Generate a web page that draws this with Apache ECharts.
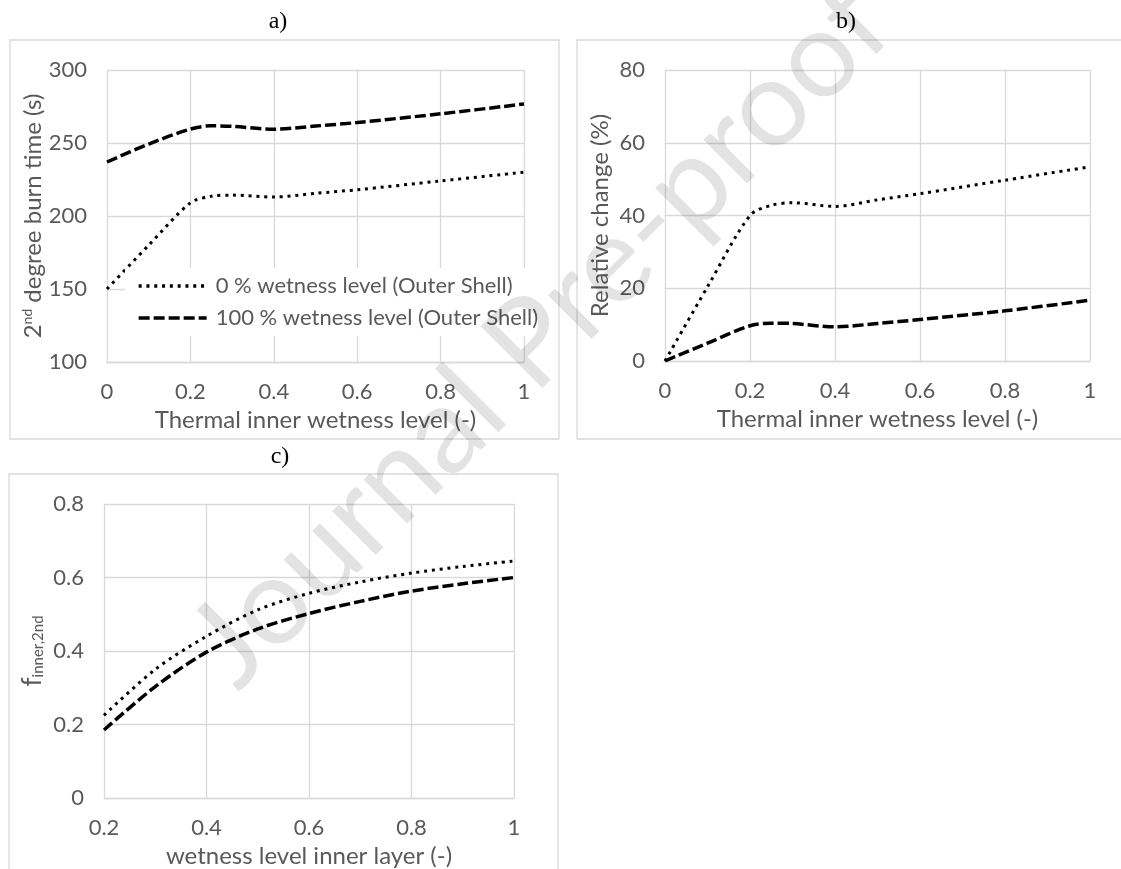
<!DOCTYPE html>
<html><head><meta charset="utf-8">
<script src="https://cdn.jsdelivr.net/npm/echarts@6/dist/echarts.min.js"></script>
<style>html,body{margin:0;padding:0;background:#fff}#chart{width:1121px;height:869px}</style>
</head><body><div id="chart"></div>
<script>
// ---------- data ----------
const thermalLevels = [0, 0.1, 0.2, 0.25, 0.3, 0.4, 0.5, 0.6, 0.8, 1];
const burnTimeDry = [150, 180, 209, 213.5, 214.3, 213, 215.5, 218, 224, 230];          // 0 % wetness (outer shell)
const burnTimeWet = [237, 249.3, 259.5, 261.8, 261.4, 259.4, 261.6, 264, 270, 276.7];  // 100 % wetness (outer shell)
const relChangeDry = [0, 20.4, 40, 42.8, 43.5, 42.5, 44.3, 46, 49.7, 53.4];
const relChangeWet = [0, 4.9, 9.7, 10.4, 10.3, 9.4, 10.3, 11.4, 13.8, 16.7];
const innerLayerLevels = [0.2, 0.3, 0.4, 0.5, 0.6, 0.7, 0.8, 0.9, 1];
const fInnerDry = [0.225, 0.35, 0.44, 0.512, 0.557, 0.588, 0.612, 0.63, 0.645];
const fInnerWet = [0.185, 0.303, 0.397, 0.46, 0.502, 0.535, 0.563, 0.583, 0.60];
const seriesNames = ['0 % wetness level (Outer Shell)', '100 % wetness level (Outer Shell)'];
const panelTitles = ['a)', 'b)', 'c)'];
const xAxisNames = ['Thermal inner wetness level (-)', 'Thermal inner wetness level (-)', 'wetness level inner layer (-)'];
const yAxisNames = ['2{sup|nd} degree burn time (s)', 'Relative change (%)', '{f|f}{sub|inner,2nd}'];
const watermarkText = 'Journal Pre-proof';

// ---------- helpers ----------
const zip = (xs, ys) => xs.map((x, i) => [x, ys[i]]);
const FONT = 'Lato';
const GRID_C = '#d9d9d9';
const TXT_C = '#595959';
const dottedStyle = { color: '#000', width: 3, type: [3, 4.8], cap: 'butt' };
const dashedStyle = { color: '#000', width: 3.5, type: [11, 4], cap: 'butt' };

function xAxis(gi, min, name) {
  return {
    type: 'value', gridIndex: gi, min: min, max: 1, interval: 0.2,
    name: name, nameLocation: 'middle', nameGap: 46,
    nameTextStyle: { color: TXT_C, fontSize: 24, fontFamily: FONT },
    axisLine: { show: true, lineStyle: { color: GRID_C, width: 1.3 } },
    axisTick: { show: false },
    splitLine: { show: true, lineStyle: { color: GRID_C, width: 1.3 } },
    axisLabel: { color: TXT_C, fontSize: 22, fontFamily: FONT, margin: 19 }
  };
}
function yAxis(gi, min, max, interval, name, gap) {
  return {
    type: 'value', gridIndex: gi, min: min, max: max, interval: interval,
    name: name, nameLocation: 'middle', nameGap: gap,
    nameTextStyle: {
      color: TXT_C, fontSize: 24, fontFamily: FONT,
      rich: {
        sup: { fontSize: 14, fontFamily: FONT, color: TXT_C, verticalAlign: 'top' },
        f: { fontSize: 26, fontFamily: FONT, color: TXT_C },
        sub: { fontSize: 15, fontFamily: FONT, color: TXT_C, verticalAlign: 'bottom' }
      }
    },
    axisLine: { show: false },
    axisTick: { show: false },
    splitLine: { show: true, lineStyle: { color: GRID_C, width: 1.3 } },
    axisLabel: { color: TXT_C, fontSize: 22, fontFamily: FONT, margin: 20 }
  };
}
function line(name, gi, data, style) {
  return {
    type: 'line', name: name, xAxisIndex: gi, yAxisIndex: gi,
    data: data, smooth: 0.3, symbol: 'none', lineStyle: style,
    itemStyle: { color: '#000' },
    animation: false, silent: true
  };
}

const option = {
  backgroundColor: '#fff',
  animation: false,
  grid: [
    { left: 107, top: 70, width: 417, height: 292 },
    { left: 665, top: 70, width: 425, height: 291 },
    { left: 104, top: 504, width: 410, height: 296 }
  ],
  xAxis: [xAxis(0, 0, xAxisNames[0]), xAxis(1, 0, xAxisNames[1]), xAxis(2, 0.2, xAxisNames[2])],
  yAxis: [
    yAxis(0, 100, 300, 50, yAxisNames[0], 60),
    yAxis(1, 0, 80, 20, yAxisNames[1], 53),
    yAxis(2, 0, 0.8, 0.2, yAxisNames[2], 58)
  ],
  legend: {
    data: seriesNames, orient: 'vertical', left: 125, top: 268,
    itemWidth: 68, itemHeight: 14, itemGap: 10, padding: [7, 6, 7, 12],
    backgroundColor: '#fff',
    itemStyle: { opacity: 0 },
    lineStyle: { width: 3.3 },
    textStyle: { color: TXT_C, fontSize: 22, fontFamily: FONT, padding: [0, 0, 0, 4] }
  },
  series: [
    line(seriesNames[0], 0, zip(thermalLevels, burnTimeDry), dottedStyle),
    line(seriesNames[1], 0, zip(thermalLevels, burnTimeWet), dashedStyle),
    line(seriesNames[0], 1, zip(thermalLevels, relChangeDry), dottedStyle),
    line(seriesNames[1], 1, zip(thermalLevels, relChangeWet), dashedStyle),
    line(seriesNames[0], 2, zip(innerLayerLevels, fInnerDry), dottedStyle),
    line(seriesNames[1], 2, zip(innerLayerLevels, fInnerWet), dashedStyle)
  ],
  graphic: { elements: [
    { type: 'rect', shape: { x: 10, y: 40, width: 549, height: 399 }, style: { fill: 'none', stroke: GRID_C, lineWidth: 1.3 }, z: 0, silent: true },
    { type: 'rect', shape: { x: 577, y: 40, width: 600, height: 399 }, style: { fill: 'none', stroke: GRID_C, lineWidth: 1.3 }, z: 0, silent: true },
    { type: 'rect', shape: { x: 9, y: 474, width: 549, height: 450 }, style: { fill: 'none', stroke: GRID_C, lineWidth: 1.3 }, z: 0, silent: true },
    { type: 'text', x: 278, y: 22, silent: true, style: { text: panelTitles[0], font: '24px "Liberation Serif"', fill: '#000', align: 'center', verticalAlign: 'middle', textAlign: 'center', textVerticalAlign: 'middle' } },
    { type: 'text', x: 846, y: 22, silent: true, style: { text: panelTitles[1], font: '24px "Liberation Serif"', fill: '#000', align: 'center', verticalAlign: 'middle', textAlign: 'center', textVerticalAlign: 'middle' } },
    { type: 'text', x: 280, y: 457, silent: true, style: { text: panelTitles[2], font: '24px "Liberation Serif"', fill: '#000', align: 'center', verticalAlign: 'middle', textAlign: 'center', textVerticalAlign: 'middle' } },
    { type: 'text', x: 540, y: 335, rotation: Math.PI / 4, z: 100, silent: true, style: { text: watermarkText, font: '122px Lato', fill: 'rgba(0,0,0,0.11)', align: 'center', verticalAlign: 'middle', textAlign: 'center', textVerticalAlign: 'middle' } }
  ] }
};
const chart = echarts.init(document.getElementById('chart'), null, { renderer: 'canvas' });
chart.setOption(option);
</script></body></html>
